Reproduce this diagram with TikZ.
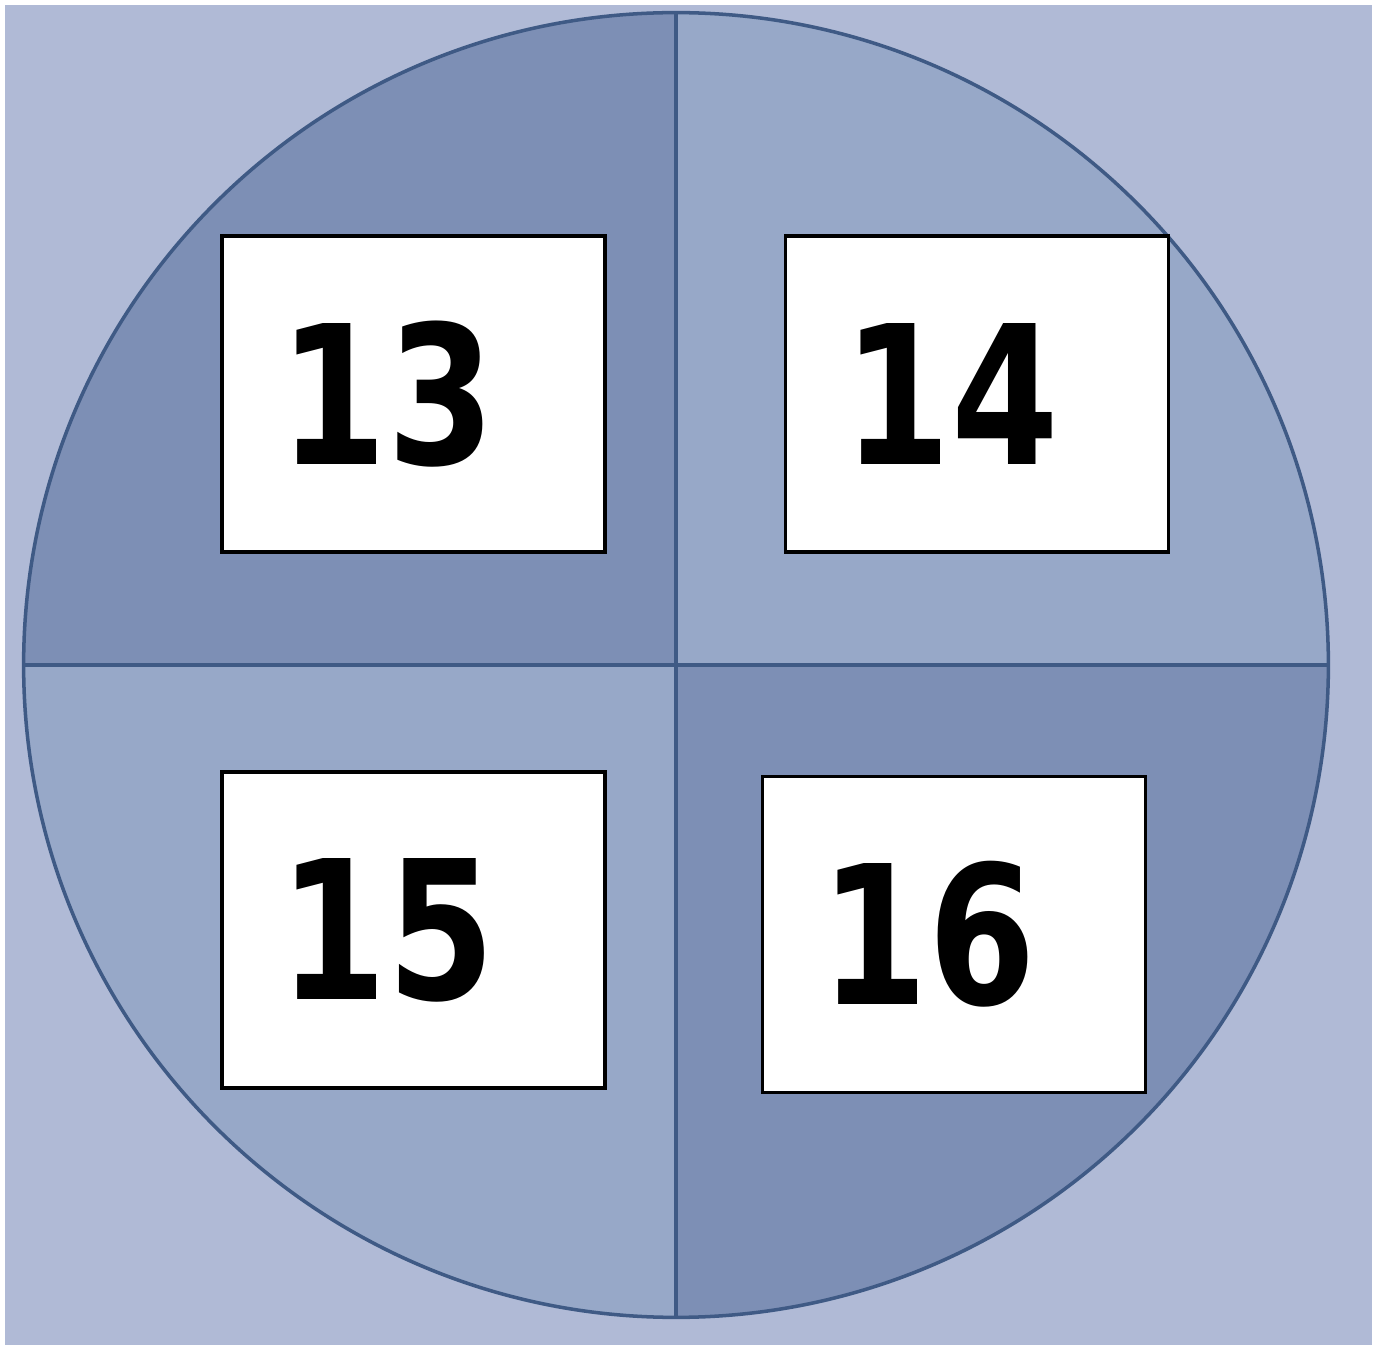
\documentclass[tikz,border=0pt]{standalone}
\usepackage{fontspec}
\newfontfamily\numfont{DejaVu Sans}[UprightFont=* Bold, FakeStretch=0.8]
\usetikzlibrary{calc}

\definecolor{bgblue}{HTML}{B0BAD6}
\definecolor{darkq}{HTML}{7D8FB5}
\definecolor{lightq}{HTML}{97A8C8}
\definecolor{rimblue}{HTML}{3F5A85}

\tikzset{
  rim/.style={draw=rimblue, line width=1pt},
  numbox/.style={draw=black, fill=white, line width=1pt, minimum width=3.83cm,
    minimum height=3.16cm, inner sep=0pt, font=\numfont\fontsize{55}{60}\selectfont}
}

\begin{document}
\begin{tikzpicture}[x=0.01cm,y=0.01cm]
    % Define the page and the centre of the disc
    \useasboundingbox (0,0) rectangle (1376,1345);
    \fill[white] (0,0) rectangle (1376,1345);
    \fill[bgblue] (5,0) rectangle (1372,1340);
    \coordinate (O) at (676,680);
    \coordinate (N) at ($(O)+(90:6.52cm)$);
    \coordinate (S) at ($(O)+(270:6.52cm)$);
    \coordinate (W) at ($(O)+(180:6.52cm)$);
    \coordinate (E) at ($(O)+(0:6.52cm)$);

    % Fill the four quarters
    \fill[darkq] (O) -- (N) arc[start angle=90, end angle=180, radius=6.52cm] -- cycle;
    \fill[lightq] (O) -- (E) arc[start angle=0, end angle=90, radius=6.52cm] -- cycle;
    \fill[lightq] (O) -- (W) arc[start angle=180, end angle=270, radius=6.52cm] -- cycle;
    \fill[darkq] (O) -- (S) arc[start angle=270, end angle=360, radius=6.52cm] -- cycle;

    % Draw the rim and the cross
    \draw[rim] (O) circle[radius=6.52cm];
    \draw[rim] (W) -- (E);
    \draw[rim] (N) -- (S);

    % Place the number cards
    \node[numbox] (n13) at (413.5,951) {13\hspace*{0.52cm}};
    \node[numbox] (n14) at (977,951) {14\hspace*{0.52cm}};
    \node[numbox] (n15) at (413.5,415) {15\hspace*{0.52cm}};
    \node[numbox] (n16) at (954,410.5) {16\hspace*{0.52cm}};

\end{tikzpicture}
\end{document}
